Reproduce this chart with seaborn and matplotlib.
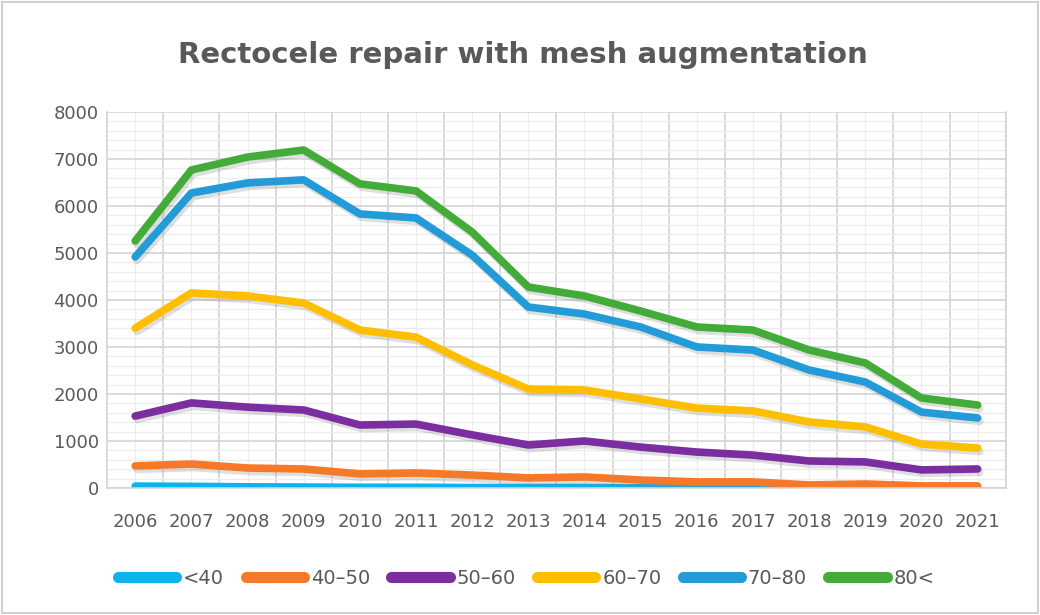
import pandas as pd
import numpy as np
import matplotlib.pyplot as plt
import matplotlib.patheffects as pe
from matplotlib.patches import Rectangle
from matplotlib.ticker import MultipleLocator
import seaborn as sns

# data
years = [2006, 2007, 2008, 2009, 2010, 2011, 2012, 2013,
         2014, 2015, 2016, 2017, 2018, 2019, 2020, 2021]
groups = ['<40', '40–50', '50–60', '60–70', '70–80', '80<']
under_40 = [40, 35, 25, 20, 15, 15, 10, 10, 10, 5, 5, 5, 5, 5, 0, 0]
age_40_50 = [470, 510, 425, 405, 300, 320, 275, 215, 235, 170, 130, 130, 65, 85, 45, 45]
age_50_60 = [1530, 1810, 1720, 1660, 1340, 1360, 1130, 915, 1000, 870, 765, 700, 575, 555, 385, 405]
age_60_70 = [3400, 4150, 4085, 3935, 3360, 3210, 2620, 2105, 2085, 1895, 1700, 1640, 1405, 1300, 935, 850]
age_70_80 = [4915, 6275, 6490, 6555, 5830, 5745, 4955, 3850, 3700, 3425, 3000, 2935, 2510, 2255, 1615, 1490]
over_80 = [5255, 6765, 7040, 7190, 6470, 6320, 5445, 4275, 4085, 3765, 3425, 3360, 2935, 2660, 1915, 1765]
colors = ['#0BB4EE', '#F6792A', '#7B2EA0', '#FFBF00', '#229BD8', '#43AC38']

series = [under_40, age_40_50, age_50_60, age_60_70, age_70_80, over_80]
df = pd.DataFrame({
    'pos': np.tile(np.arange(len(years)), len(groups)),
    'value': np.concatenate(series),
    'group': np.repeat(groups, len(years)),
})

sns.set_style('white')
plt.rcParams['font.family'] = ['DejaVu Sans']

fig = plt.figure(figsize=(10.4, 6.15), dpi=100)
ax = fig.add_axes([0.103, 0.2065, 0.864, 0.6115])

sns.lineplot(data=df, x='pos', y='value', hue='group', hue_order=groups,
             palette=colors, linewidth=5.5, ax=ax, legend=False,
             solid_capstyle='round')
for line in ax.lines:
    line.set_path_effects([pe.SimpleLineShadow(offset=(1.5, -2.5), alpha=0.25, shadow_color='gray'),
                           pe.Normal()])

ax.set_xlim(-0.5, len(years) - 0.5)
ax.set_ylim(0, 8000)
ax.set_xticks(np.arange(len(years)))
ax.set_xticklabels(years)
ax.yaxis.set_major_locator(MultipleLocator(1000))
ax.yaxis.set_minor_locator(MultipleLocator(200))
ax.set_xticks(np.arange(len(years)) + 0.5, minor=True)

# excel-like grid
ax.grid(which='major', axis='y', color='#d4d4d4', linewidth=1.2)
ax.grid(which='minor', axis='y', color='#ececec', linewidth=0.9)
ax.grid(which='minor', axis='x', color='#d4d4d4', linewidth=1.2)
ax.grid(which='major', axis='x', color='#ececec', linewidth=0.9)
ax.set_axisbelow(True)

ax.tick_params(axis='x', which='both', length=0, pad=18, labelsize=13, labelcolor='#595959')
ax.tick_params(axis='y', which='both', length=0, pad=6, labelsize=13, labelcolor='#595959')
ax.set_xlabel('')
ax.set_ylabel('')
ax.spines['top'].set_visible(False)
for side in ['left', 'right', 'bottom']:
    ax.spines[side].set_color('#d4d4d4')
    ax.spines[side].set_linewidth(1.2)

fig.text(0.503, 0.91, 'Rectocele repair with mesh augmentation', ha='center', va='center',
         fontsize=21, fontweight='bold', color='#595959')

leg_handles = [plt.Line2D([], [], color=c, linewidth=8, solid_capstyle='round') for c in colors]
fig.legend(leg_handles, groups, loc='center', bbox_to_anchor=(0.506, 0.06), ncol=6,
           frameon=False, fontsize=14, labelcolor='#595959', handlelength=3.0,
           handletextpad=0.35, columnspacing=1.1)

fig.patches.append(Rectangle((0.002, 0.003), 0.996, 0.994, transform=fig.transFigure,
                             fill=False, edgecolor='#d0d0d0', linewidth=1.5))

fig.savefig('out.png', dpi=100)
